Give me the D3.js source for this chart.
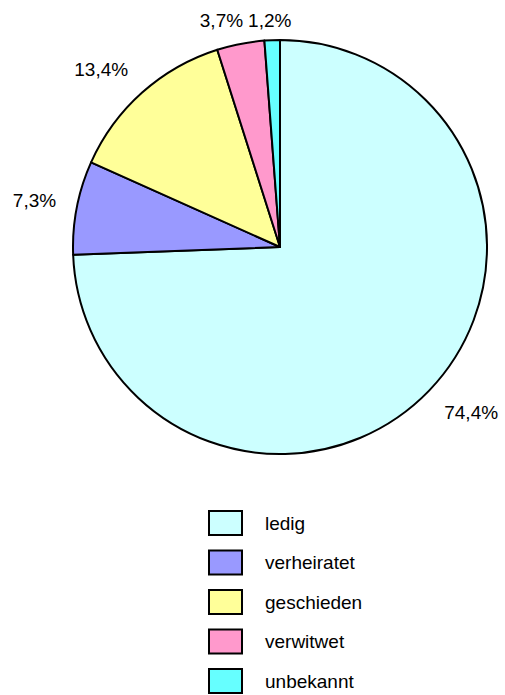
<!DOCTYPE html>
<html><head><meta charset="utf-8">
<script src="https://cdn.jsdelivr.net/npm/d3@7"></script>
<style>html,body{margin:0;padding:0;background:#fff;}svg{display:block;}</style>
</head><body>
<svg id="chart" width="505" height="695"></svg>
<script>
const categories = ["ledig", "verheiratet", "geschieden", "verwitwet", "unbekannt"];
const values = [74.4, 7.3, 13.4, 3.7, 1.2];
const labels = ["74,4%", "7,3%", "13,4%", "3,7%", "1,2%"];
const colors = ["#CCFFFF", "#9999FF", "#FFFF99", "#FF99CC", "#66FFFF"];

const svg = d3.select("#chart");
const cx = 280, cy = 247, R = 207;
const font = "Liberation Sans, Arial, sans-serif";
const fs = 19;

const data = categories.map((c, i) => ({cat: c, value: values[i], label: labels[i], color: colors[i]}));
const pie = d3.pie().sort(null).value(d => d.value);
const arcs = pie(data);
const arc = d3.arc().innerRadius(0).outerRadius(R);

const g = svg.append("g").attr("transform", `translate(${cx},${cy})`);
g.selectAll("path").data(arcs).join("path")
  .attr("d", arc)
  .attr("fill", d => d.data.color)
  .attr("stroke", "#000")
  .attr("stroke-width", 2)
  .attr("stroke-linejoin", "round");

// labels (outside end)
const rL = R + 21;
const clamp = v => Math.max(-1, Math.min(1, v));
const measure = svg.append("text").attr("font-family", font).attr("font-size", fs);
const lab = arcs.map(a => {
  const th = (a.startAngle + a.endAngle) / 2;
  const s = Math.sin(th), c = Math.cos(th);
  measure.text(a.data.label);
  const w = measure.node().getComputedTextLength();
  const h = 14;
  let x = cx + rL * s + (w / 2) * clamp(2 * s);
  let y = cy - rL * c - (h / 2) * clamp(2 * c);
  y = Math.max(y, 20);
  return {x, y, w, text: a.data.label};
});
measure.remove();
// resolve overlaps near the top: shift earlier label left
for (let i = lab.length - 2; i >= 0; i--) {
  const a = lab[i], b = lab[i + 1];
  if (Math.abs(a.y - b.y) < 14) {
    const right = a.x + a.w / 2, left = b.x - b.w / 2;
    if (right > left - 5) a.x -= right - (left - 5);
  }
}
svg.append("g").selectAll("text").data(lab).join("text")
  .attr("x", d => d.x).attr("y", d => d.y)
  .attr("text-anchor", "middle").attr("dominant-baseline", "central")
  .attr("font-family", font).attr("font-size", fs).attr("fill", "#000")
  .text(d => d.text);

// legend
const ly = d3.scalePoint().domain(categories).range([523, 681]);
const leg = svg.append("g").selectAll("g").data(data).join("g")
  .attr("transform", d => `translate(0,${ly(d.cat)})`);
leg.append("rect").attr("x", 209).attr("y", -12).attr("width", 33).attr("height", 24)
  .attr("fill", d => d.color).attr("stroke", "#000").attr("stroke-width", 2);
leg.append("text").attr("x", 265).attr("y", 0).attr("dominant-baseline", "central")
  .attr("font-family", font).attr("font-size", fs).attr("fill", "#000")
  .text(d => d.cat);
</script>
</body></html>
